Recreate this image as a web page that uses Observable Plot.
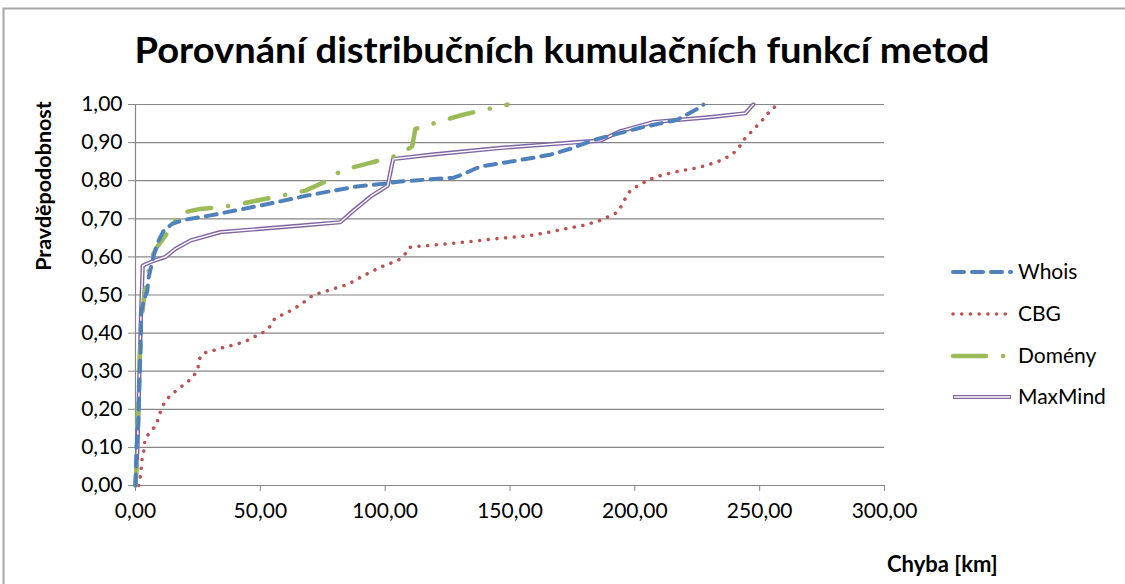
<!DOCTYPE html>
<html><head><meta charset="utf-8">
<script src="https://cdn.jsdelivr.net/npm/d3@7"></script>
<script src="https://cdn.jsdelivr.net/npm/@observablehq/plot@0.6"></script>
<style>body{margin:0;background:#fff} svg{display:block}</style>
</head><body><div id="chart"></div>
<script>
const FONT = "Lato, sans-serif";
const title = "Porovnání distribučních kumulačních funkcí metod";
const xLabel = "Chyba [km]";
const yLabel = "Pravděpodobnost";
const xTicks = [0, 50, 100, 150, 200, 250, 300];
const yTicks = [0, 0.1, 0.2, 0.3, 0.4, 0.5, 0.6, 0.7, 0.8, 0.9, 1.0];
const seriesNames = ["Whois", "CBG", "Domény", "MaxMind"];
const seriesColors = ["#4F81BD", "#C0504D", "#9BBB59", "#8064A2"];

// [chyba km, pravděpodobnost]
const whois = [[0,0],[0.4,0.1],[1.1,0.163],[1.7,0.3],[2.0,0.35],[2.3,0.455],[3.3,0.486],[4.7,0.51],[5.3,0.547],[7.3,0.604],[9.3,0.643],[11.3,0.669],[14.7,0.687],[19.3,0.697],[30,0.709],[43.4,0.726],[56.7,0.744],[68.8,0.761],[79.4,0.774],[88.8,0.785],[99.4,0.792],[106,0.798],[127.5,0.808],[131.5,0.818],[138,0.837],[152.9,0.853],[166,0.868],[174.2,0.884],[184.2,0.908],[202.2,0.939],[217,0.96],[226.3,0.993],[227.5,1.0]];
const cbg = [[1.3,0],[2.0,0.026],[2.7,0.074],[3.6,0.098],[3.7,0.12],[5.7,0.14],[8.3,0.158],[9.3,0.18],[10.5,0.204],[12.3,0.225],[14.8,0.241],[17.6,0.256],[20.5,0.27],[23.2,0.286],[25,0.307],[25.5,0.331],[27,0.347],[30.4,0.353],[34,0.36],[37.6,0.366],[41.1,0.372],[44.6,0.38],[47.8,0.391],[51,0.402],[53.8,0.417],[55.7,0.437],[59,0.449],[62.2,0.459],[65.4,0.472],[68.4,0.486],[71.2,0.5],[74.8,0.507],[78.2,0.514],[81.7,0.521],[85.4,0.529],[91.4,0.551],[98.1,0.573],[101.5,0.582],[105,0.59],[107.7,0.605],[109.7,0.625],[113.5,0.628],[124.4,0.634],[135.2,0.641],[146.2,0.649],[156.9,0.655],[164.2,0.663],[171.5,0.673],[178.9,0.682],[185.5,0.694],[188.9,0.704],[192.5,0.715],[194.5,0.732],[196.2,0.754],[198.2,0.774],[201.2,0.787],[204.5,0.798],[207.6,0.808],[211.2,0.815],[218.3,0.826],[225.3,0.834],[232.5,0.848],[235.6,0.857],[239,0.869],[241.6,0.886],[243.4,0.906],[245.9,0.923],[248.3,0.94],[251,0.958],[253.2,0.976],[255.9,0.993],[257,1.0]];
const domeny = [[0,0],[0.4,0.05],[1,0.2],[1.5,0.3],[2.2,0.42],[2.7,0.45],[3.5,0.5],[4.7,0.538],[6,0.59],[8,0.62],[12,0.656],[15.5,0.69],[16,0.7],[16.7,0.713],[26,0.726],[34,0.73],[42,0.739],[54,0.755],[60.8,0.764],[68,0.774],[76.8,0.8],[79.4,0.816],[85.4,0.832],[92.5,0.844],[104.8,0.866],[110.8,0.89],[112.1,0.936],[124.2,0.96],[131.2,0.973],[138.2,0.984],[147.5,0.997],[149,1.0]];
const maxmind = [[0,0],[0.8,0.1],[1.2,0.2],[1.6,0.3],[2.2,0.45],[2.9,0.577],[7.3,0.59],[12,0.6],[16,0.621],[22,0.643],[34,0.665],[66,0.682],[82,0.691],[87.4,0.722],[94.5,0.76],[101,0.787],[103.2,0.857],[119.5,0.869],[146.2,0.886],[176.9,0.901],[186.2,0.905],[194.2,0.93],[207.6,0.954],[230.3,0.967],[244.3,0.977],[247,0.997],[247.5,1.0]];

const fmt = d => d.toFixed(2).replace(".", ",");
const styles = {
  Whois:  {stroke: seriesColors[0], strokeWidth: 4, strokeDasharray: "11,8", strokeLinecap: "round"},
  CBG:    {stroke: seriesColors[1], strokeWidth: 3.5, strokeDasharray: "0.1,8.6", strokeLinecap: "round"},
  "Domény": {stroke: seriesColors[2], strokeWidth: 4.5, strokeDasharray: "24,17,0.1,17", strokeLinecap: "round"}
};

const chart = Plot.plot({
  width: 1125, height: 584,
  marginLeft: 135, marginRight: 241, marginTop: 104, marginBottom: 99,
  style: {fontFamily: FONT, fontSize: "21px", background: "#fff"},
  x: {domain: [0, 300]},
  y: {domain: [0, 1]},
  marks: [
    Plot.gridY(yTicks, {stroke: "#868686", strokeOpacity: 1, strokeWidth: 1.2}),
    Plot.ruleX([0], {stroke: "#868686", strokeWidth: 1.2}),
    Plot.axisY(yTicks, {tickFormat: fmt, tickSize: 7, tickPadding: 6, stroke: "#868686", fill: "#000", label: null, fontSize: 21}),
    Plot.axisX(xTicks, {tickFormat: fmt, tickSize: 6, tickPadding: 12, stroke: "#868686", fill: "#000", label: null, fontSize: 21}),
    Plot.line(maxmind, {x: d => d[0], y: d => d[1], stroke: seriesColors[3], strokeWidth: 4.2}),
    Plot.line(maxmind, {x: d => d[0], y: d => d[1], stroke: "#fff", strokeWidth: 1.4}),
    Plot.line(cbg, {x: d => d[0], y: d => d[1], ...styles.CBG}),
    Plot.line(domeny, {x: d => d[0], y: d => d[1], ...styles["Domény"]}),
    Plot.line(whois, {x: d => d[0], y: d => d[1], ...styles.Whois})
  ]
});
document.getElementById("chart").append(chart);

const svg = d3.select(chart);
svg.append("path").attr("d", "M3.5,584 L3.5,8.5 L1125,8.5").attr("fill", "none").attr("stroke", "#a6a6a6").attr("stroke-width", 2);
svg.append("text").attr("x", 562).attr("y", 63).attr("text-anchor", "middle")
  .attr("font-family", FONT).attr("font-weight", "bold").attr("font-size", 37).attr("fill", "#000")
  .attr("textLength", 855).attr("lengthAdjust", "spacingAndGlyphs").text(title);
svg.append("text").attr("transform", "translate(51,186) rotate(-90)").attr("text-anchor", "middle")
  .attr("font-family", FONT).attr("font-weight", "bold").attr("font-size", 21.5).attr("fill", "#000").text(yLabel);
svg.append("text").attr("x", 887).attr("y", 572).attr("text-anchor", "start")
  .attr("font-family", FONT).attr("font-weight", "bold").attr("font-size", 22).attr("fill", "#000").text(xLabel);
const legendY = [272, 314, 356, 397];
seriesNames.forEach((name, i) => {
  const g = svg.append("g");
  const y = legendY[i];
  if (name === "MaxMind") {
    g.append("line").attr("x1", 953).attr("x2", 1011).attr("y1", y).attr("y2", y).attr("stroke", seriesColors[3]).attr("stroke-width", 4.2);
    g.append("line").attr("x1", 954).attr("x2", 1010).attr("y1", y).attr("y2", y).attr("stroke", "#fff").attr("stroke-width", 1.4);
  } else {
    const s = styles[name];
    g.append("line").attr("x1", 953).attr("x2", 1011).attr("y1", y).attr("y2", y)
      .attr("stroke", s.stroke).attr("stroke-width", s.strokeWidth)
      .attr("stroke-dasharray", name === "Domény" ? "33,17,0.1,40" : s.strokeDasharray)
      .attr("stroke-linecap", s.strokeLinecap);
  }
  g.append("text").attr("x", 1018).attr("y", y).attr("dy", "0.35em").attr("text-anchor", "start")
    .attr("font-family", FONT).attr("font-size", 21).attr("fill", "#000").text(name);
});
</script></body></html>
